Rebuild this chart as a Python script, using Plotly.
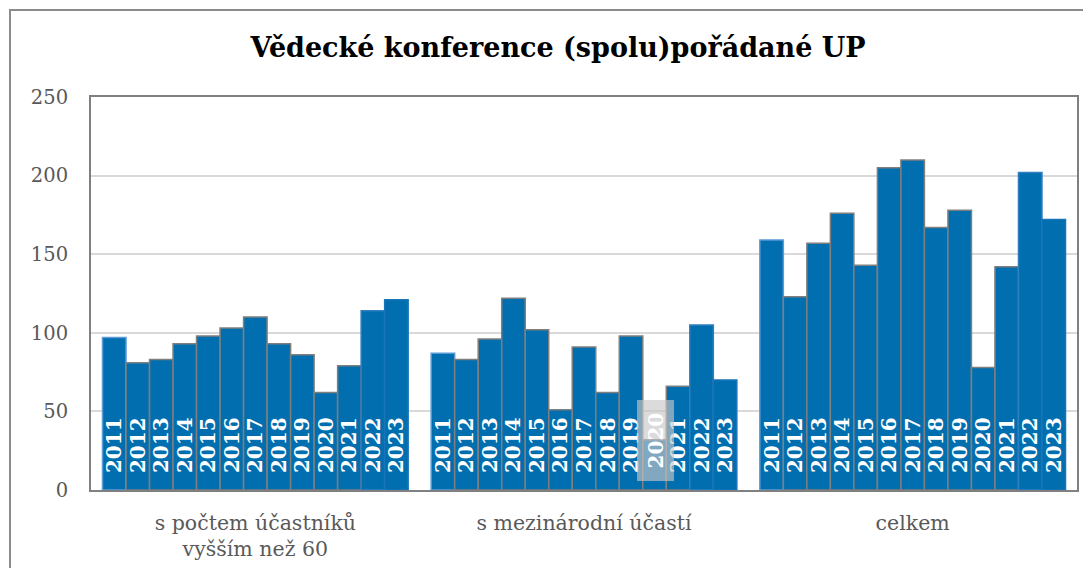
import plotly.graph_objects as go

years = ['2011', '2012', '2013', '2014', '2015', '2016', '2017',
         '2018', '2019', '2020', '2021', '2022', '2023']
categories = ['s počtem účastníků<br>vyšším než 60', 's mezinárodní účastí', 'celkem']
ucastnici_nad_60 = [97, 81, 83, 93, 98, 103, 110, 93, 86, 62, 79, 114, 121]
mezinarodni = [87, 83, 96, 122, 102, 51, 91, 62, 98, 32, 66, 105, 70]
celkem = [159, 123, 157, 176, 143, 205, 210, 167, 178, 78, 142, 202, 172]
y_ticks = [0, 50, 100, 150, 200, 250]

title = 'Vědecké konference (spolu)pořádané UP'

OFF = 8  # default page body margin
W, H = 1091 - OFF, 568 - OFF
ML, MR, MT, MB = 91 - OFF, 14, 97 - OFF, 78
PW, PH = W - ML - MR, H - MT - MB

FILL = '#006EAF'
outline = {'2011': '#5B9BD5', '2022': '#2E7EC0', '2023': '#1A74B8'}
SERIF = 'DejaVu Serif'
LBL = dict(family=SERIF, size=20, color='white', weight='bold')

fig = go.Figure()
for i, yr in enumerate(years):
    vals = [ucastnici_nad_60[i], mezinarodni[i], celkem[i]]
    txt = ['\u00a0\u00a0' + yr] * 3
    if yr == '2020':
        txt[1] = ''  # drawn separately with grey label box
    fig.add_trace(go.Bar(
        name=yr, x=categories, y=vals,
        text=txt, textposition='inside', insidetextanchor='start',
        textangle=-90, constraintext='none', cliponaxis=False,
        textfont=LBL,
        marker=dict(color=FILL, line=dict(color=outline.get(yr, '#7F7F7F'), width=1.5)),
        hoverinfo='x+y+name',
    ))

bargap = 0.07
bar_w = PW / 3 * (1 - bargap) / len(years)
idx20 = years.index('2020')
fig.add_annotation(
    x=categories[1], y=0, xref='x', yref='y', yanchor='bottom', yshift=8,
    xshift=(idx20 - (len(years) - 1) / 2) * bar_w + 1,
    text='2020', textangle=-90, showarrow=False,
    font=LBL, width=76, height=32, align='center', valign='middle',
    bgcolor='rgba(200,200,200,0.65)', borderpad=2,
)

# outer chart border (cut at right/bottom like the reference)
fig.add_shape(type='rect', xref='paper', yref='paper',
              x0=(10 - OFF - ML) / PW, x1=(W + 20 - ML) / PW,
              y0=-(MB + 20) / PH, y1=(H - (10 - OFF) - MB) / PH,
              line=dict(color='#8C8C8C', width=2), fillcolor='rgba(0,0,0,0)', layer='below')

fig.update_layout(
    width=W, height=H,
    margin=dict(l=ML, r=MR, t=MT, b=MB),
    paper_bgcolor='white', plot_bgcolor='white',
    barmode='group', bargap=bargap, bargroupgap=0,
    showlegend=False,
    title=dict(text=title, x=(558 - OFF) / W, xanchor='center', y=1 - (48 - OFF) / H,
               yanchor='middle', xref='container', yref='container',
               font=dict(family=SERIF, size=27, color='black', weight='bold')),
    xaxis=dict(showline=True, linecolor='#808080', linewidth=2, mirror=True,
               showgrid=False, ticks='', tickfont=dict(family=SERIF, size=20.5, color='#595959'),
               ticklabelstandoff=13, automargin=False),
    yaxis=dict(range=[0, 250], tickvals=y_ticks, showline=True, linecolor='#808080',
               linewidth=2, mirror=True, showgrid=True, gridcolor='#D9D9D9', gridwidth=1.5,
               zeroline=False, ticks='',
               tickfont=dict(family=SERIF, size=19.5, color='#595959'),
               ticklabelstandoff=17, automargin=False),
    font=dict(family=SERIF),
)

fig.write_html('out.html')
